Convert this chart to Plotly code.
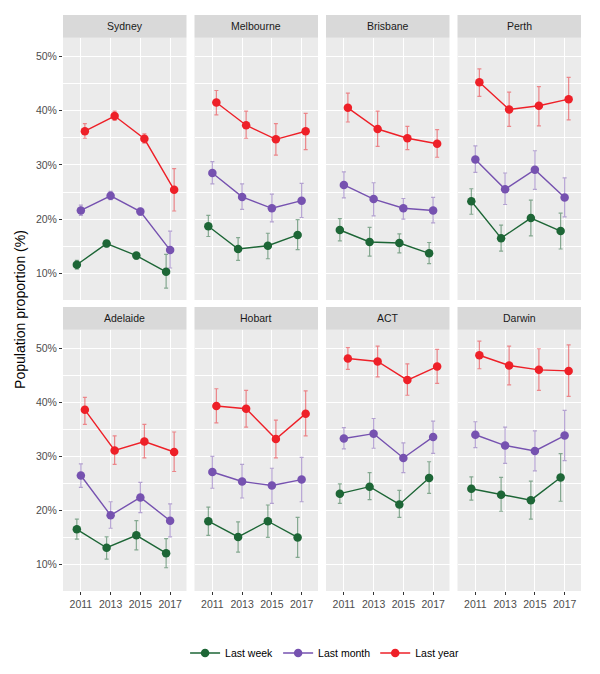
import plotly.graph_objects as go

years = [2011, 2013, 2015, 2017]
cities = ["Sydney", "Melbourne", "Brisbane", "Perth",
          "Adelaide", "Hobart", "ACT", "Darwin"]
series_names = ["Last week", "Last month", "Last year"]

week_val = {
    "Sydney": [11.6, 15.5, 13.3, 10.3], "Melbourne": [18.7, 14.5, 15.1, 17.1],
    "Brisbane": [18.0, 15.8, 15.6, 13.7], "Perth": [23.3, 16.5, 20.2, 17.8],
    "Adelaide": [16.5, 13.1, 15.4, 12.1], "Hobart": [18.0, 15.1, 18.0, 15.0],
    "ACT": [23.1, 24.4, 21.1, 26.0], "Darwin": [24.0, 22.9, 21.9, 26.1],
}
week_lo = {
    "Sydney": [10.8, 14.9, 12.6, 7.3], "Melbourne": [16.8, 12.4, 12.7, 14.4],
    "Brisbane": [16.0, 13.2, 13.8, 11.8], "Perth": [20.9, 14.1, 16.9, 14.5],
    "Adelaide": [14.7, 11.0, 12.7, 9.4], "Hobart": [15.4, 12.3, 15.0, 11.3],
    "ACT": [21.3, 22.0, 18.7, 23.15], "Darwin": [21.9, 19.85, 18.4, 21.7],
}
week_hi = {
    "Sydney": [12.4, 15.9, 13.8, 13.5], "Melbourne": [20.7, 16.6, 17.4, 19.9],
    "Brisbane": [20.1, 18.5, 17.3, 15.7], "Perth": [25.6, 18.9, 23.5, 21.1],
    "Adelaide": [18.4, 15.1, 18.1, 14.8], "Hobart": [20.6, 17.9, 21.0, 18.7],
    "ACT": [24.9, 27.0, 23.7, 29.0], "Darwin": [26.2, 26.1, 25.4, 30.5],
}
month_val = {
    "Sydney": [21.6, 24.3, 21.4, 14.3], "Melbourne": [28.5, 24.1, 22.0, 23.4],
    "Brisbane": [26.3, 23.7, 22.0, 21.6], "Perth": [31.0, 25.5, 29.1, 24.0],
    "Adelaide": [26.45, 19.1, 22.4, 18.1], "Hobart": [27.1, 25.35, 24.6, 25.7],
    "ACT": [33.3, 34.2, 29.7, 33.6], "Darwin": [34.0, 32.0, 31.0, 33.85],
}
month_lo = {
    "Sydney": [20.7, 23.6, 20.7, 11.0], "Melbourne": [26.5, 21.8, 19.5, 20.3],
    "Brisbane": [23.9, 20.6, 20.0, 19.3], "Perth": [28.6, 22.7, 25.5, 20.4],
    "Adelaide": [24.25, 16.7, 19.6, 15.1], "Hobart": [24.1, 22.3, 21.3, 21.6],
    "ACT": [31.4, 31.5, 27.0, 30.55], "Darwin": [31.6, 28.7, 27.3, 29.2],
}
month_hi = {
    "Sydney": [22.6, 25.1, 22.0, 17.8], "Melbourne": [30.6, 26.5, 24.6, 26.6],
    "Brisbane": [28.7, 26.7, 23.8, 24.0], "Perth": [33.5, 28.5, 32.6, 27.6],
    "Adelaide": [28.6, 21.6, 25.2, 21.2], "Hobart": [30.0, 28.5, 27.8, 29.8],
    "ACT": [35.3, 37.0, 32.5, 36.5], "Darwin": [36.4, 35.4, 34.7, 38.5],
}
year_val = {
    "Sydney": [36.2, 39.0, 34.8, 25.4], "Melbourne": [41.5, 37.3, 34.7, 36.2],
    "Brisbane": [40.5, 36.6, 34.9, 33.9], "Perth": [45.2, 40.2, 40.9, 42.1],
    "Adelaide": [38.6, 31.1, 32.75, 30.8], "Hobart": [39.3, 38.8, 33.2, 37.9],
    "ACT": [48.1, 47.55, 44.1, 46.6], "Darwin": [48.7, 46.8, 46.0, 45.8],
}
year_lo = {
    "Sydney": [34.9, 38.2, 34.0, 21.5], "Melbourne": [39.2, 34.9, 31.8, 32.8],
    "Brisbane": [37.9, 33.4, 32.8, 31.4], "Perth": [42.6, 37.1, 37.2, 38.3],
    "Adelaide": [35.9, 28.5, 29.7, 27.2], "Hobart": [36.2, 35.4, 29.7, 33.8],
    "ACT": [46.1, 44.7, 41.3, 43.5], "Darwin": [46.2, 43.2, 42.2, 41.1],
}
year_hi = {
    "Sydney": [37.6, 39.9, 35.7, 29.3], "Melbourne": [43.7, 39.9, 37.6, 39.5],
    "Brisbane": [43.2, 39.9, 37.1, 36.5], "Perth": [47.7, 43.4, 44.4, 46.1],
    "Adelaide": [40.9, 33.8, 35.9, 34.5], "Hobart": [42.5, 42.2, 36.7, 42.1],
    "ACT": [50.1, 50.4, 47.1, 49.8], "Darwin": [51.3, 50.4, 49.9, 50.6],
}

ytick_vals = [10, 20, 30, 40, 50]
ytick_text = ["10%", "20%", "30%", "40%", "50%"]

colors = ["#1d6636", "#7652b0", "#ee2028"]
err_colors = ["rgba(29,102,54,0.5)", "rgba(118,82,176,0.5)", "rgba(238,32,40,0.5)"]
dodge = [-0.27, 0.0, 0.27]
series_data = [(week_val, week_lo, week_hi), (month_val, month_lo, month_hi),
               (year_val, year_lo, year_hi)]
FONT = "Liberation Sans, Arial"

fig = go.Figure()

# layout geometry (paper coords); the page body adds an 8px offset
W = 518.0
pw = (W - 3 * 8) / 4.0
H = 580.0
x_domains = [[(i * (pw + 8)) / W, (i * (pw + 8) + pw) / W] for i in range(4)]
row_domains = [[(595 - 302) / H, (595 - 38) / H], [0.0, (595 - 332) / H]]
strip_domains = [[(595 - 38) / H, 1.0], [(595 - 332) / H, (595 - 309) / H]]

layout_axes = {}
annotations = []
shapes = []
for idx, city in enumerate(cities):
    r, c = divmod(idx, 4)
    n = idx + 1
    xa = "x" if n == 1 else f"x{n}"
    ya = "y" if n == 1 else f"y{n}"
    for s in range(3):
        val, lo, hi = series_data[s]
        v = val[city]
        fig.add_trace(go.Scatter(
            x=[yr + dodge[s] for yr in years], y=v,
            mode="lines+markers",
            line=dict(color=colors[s], width=1.4),
            marker=dict(color=colors[s], size=8.5),
            error_y=dict(type="data", symmetric=False,
                         array=[h - m for h, m in zip(hi[city], v)],
                         arrayminus=[m - l for m, l in zip(v, lo[city])],
                         color=err_colors[s], thickness=1.2, width=2),
            name=series_names[s], legendgroup=series_names[s],
            showlegend=(idx == 0), xaxis=xa, yaxis=ya,
        ))
    xkey = "xaxis" if n == 1 else f"xaxis{n}"
    ykey = "yaxis" if n == 1 else f"yaxis{n}"
    layout_axes[xkey] = dict(
        domain=x_domains[c], anchor=ya, range=[2009.8, 2018.1],
        tickvals=years, ticktext=[str(y) for y in years],
        showticklabels=(r == 1), ticks="outside" if r == 1 else "",
        ticklen=3, tickcolor="#333333",
        tickfont=dict(family=FONT, size=10.5, color="#4d4d4d"),
        showgrid=True, gridcolor="white", gridwidth=1.1, zeroline=False,
        showline=False, automargin=False,
    )
    layout_axes[ykey] = dict(
        domain=row_domains[r], anchor=xa, range=[5.1, 53.4],
        tickvals=ytick_vals, ticktext=ytick_text,
        showticklabels=(c == 0), ticks="outside" if c == 0 else "",
        ticklen=3, tickcolor="#333333",
        tickfont=dict(family=FONT, size=10.5, color="#4d4d4d"),
        showgrid=True, gridcolor="white", gridwidth=1.1, zeroline=False,
        minor=dict(dtick=5, tick0=0, showgrid=True, gridcolor="white", gridwidth=0.5),
        showline=False, automargin=False,
    )
    shapes.append(dict(type="rect", xref=f"{xa} domain", yref=f"{ya} domain",
                       x0=0, x1=1, y0=0, y1=1, fillcolor="#ebebeb",
                       line=dict(width=0), layer="below"))
    shapes.append(dict(type="rect", xref="paper", yref="paper",
                       x0=x_domains[c][0], x1=x_domains[c][1],
                       y0=strip_domains[r][0], y1=strip_domains[r][1],
                       fillcolor="#d9d9d9", line=dict(width=0)))
    annotations.append(dict(text=city, xref="paper", yref="paper",
                            x=(x_domains[c][0] + x_domains[c][1]) / 2,
                            y=(strip_domains[r][0] + strip_domains[r][1]) / 2,
                            showarrow=False, xanchor="center", yanchor="middle",
                            font=dict(family=FONT, size=10.5, color="#1a1a1a")))

annotations.append(dict(text="Population proportion (%)", xref="paper", yref="paper",
                        x=(12 - 55) / W, y=0.488, textangle=-90, showarrow=False,
                        xanchor="center", yanchor="middle",
                        font=dict(family=FONT, size=14, color="#000000")))

fig.update_layout(
    width=592, height=666,
    margin=dict(l=55, r=19, t=7, b=79),
    paper_bgcolor="white", plot_bgcolor="white",
    showlegend=True,
    legend=dict(orientation="h", x=0.505, xanchor="center", y=(587 - 664) / H,
                yanchor="bottom",
                font=dict(family=FONT, size=10.5, color="#000000"),
                itemwidth=30, tracegroupgap=0),
    shapes=shapes, annotations=annotations,
    **layout_axes,
)

fig.write_html("out.html")
